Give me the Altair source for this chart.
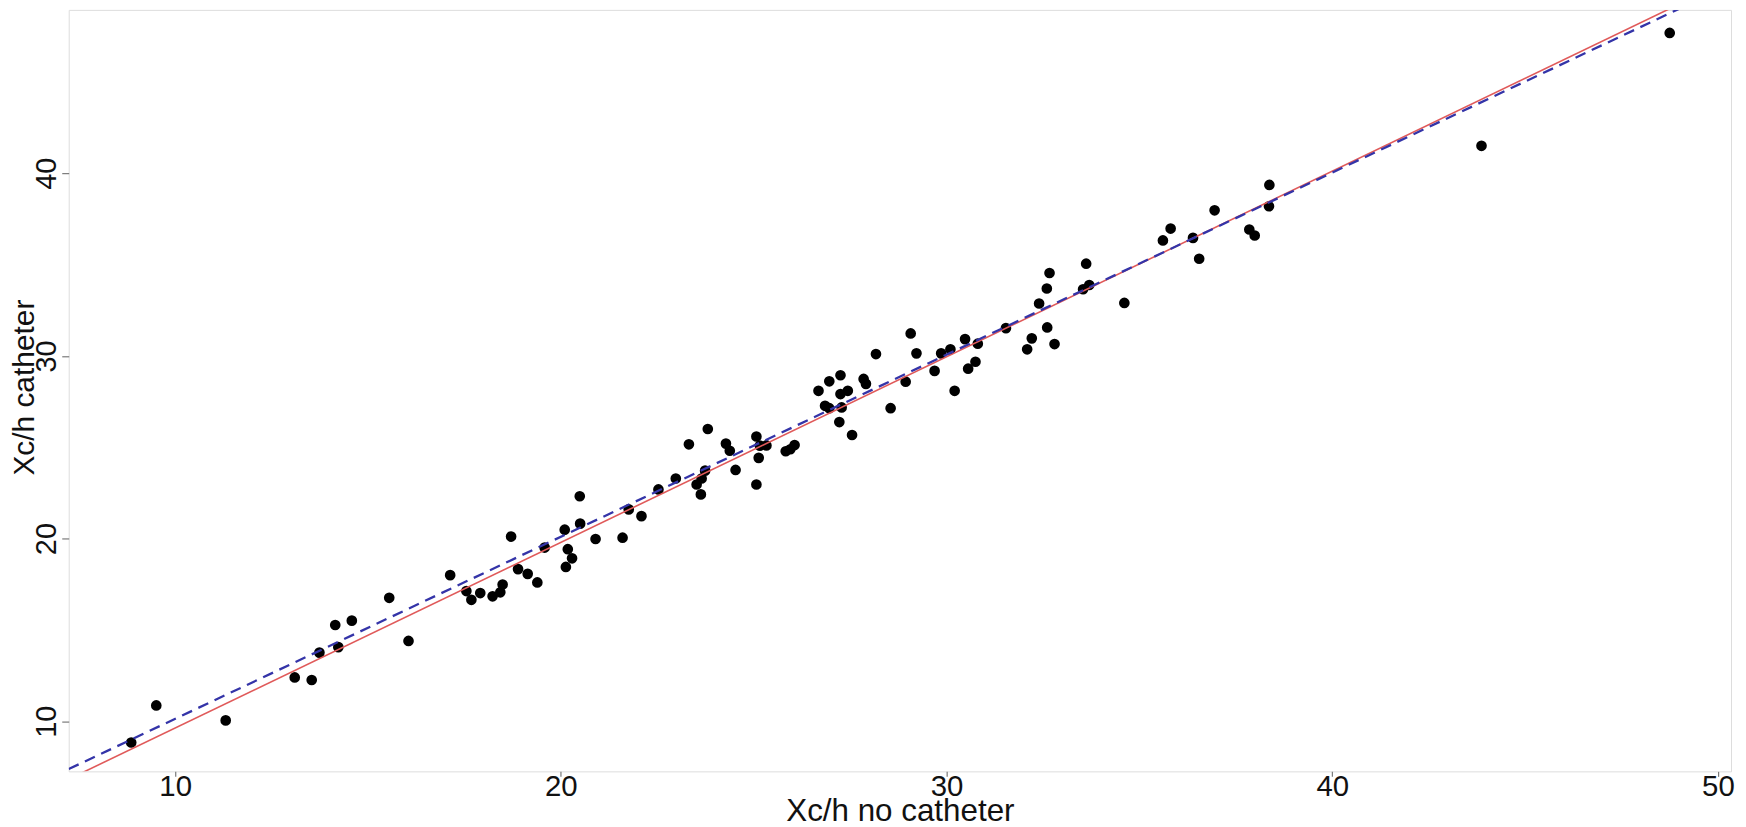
import altair as alt
import pandas as pd

# Xc/h without catheter (x) and with catheter (y)
x_no_catheter = [
    8.86, 9.51, 11.31, 13.10, 13.54, 13.74, 14.23, 14.15, 14.58, 15.55,
    16.05, 17.13, 17.55, 17.68, 17.91, 18.23, 18.43, 18.49, 18.71, 18.89,
    19.14, 19.39, 19.58, 20.10, 20.18, 20.29, 20.13, 20.49, 20.50, 20.90,
    21.60, 21.76, 22.09, 22.53, 22.98, 23.32, 23.52, 23.63, 23.65, 23.74,
    23.81, 24.28, 24.38, 24.53, 25.07, 25.13, 25.07, 25.16, 25.33, 25.83,
    25.95, 26.06, 26.68, 26.85, 26.96, 26.96, 27.25, 27.25, 27.22, 27.28,
    27.44, 27.55, 27.85, 27.91, 28.17, 28.55, 28.94, 29.07, 29.22, 29.69,
    29.86, 30.10, 30.21, 30.48, 30.56, 30.75, 30.81, 31.54, 32.09, 32.21,
    32.40, 32.60, 32.67, 32.61, 32.80, 33.54, 33.70, 33.62, 34.61, 35.61,
    35.81, 36.39, 36.55, 36.95, 37.85, 37.99, 38.37, 38.36, 43.87, 48.75,
]
y_catheter = [
    8.84, 10.87, 10.05, 12.40, 12.26, 13.76, 14.06, 15.27, 15.51, 16.76,
    14.40, 18.00, 17.13, 16.65, 17.02, 16.84, 17.06, 17.49, 20.11, 18.33,
    18.07, 17.60, 19.51, 20.49, 19.42, 18.92, 18.45, 22.32, 20.82, 19.98,
    20.05, 21.60, 21.23, 22.69, 23.29, 25.16, 22.96, 22.42, 23.29, 23.72,
    26.00, 25.20, 24.81, 23.76, 25.59, 24.42, 22.96, 25.09, 25.10, 24.78,
    24.89, 25.12, 28.09, 27.27, 28.61, 27.14, 28.94, 27.91, 26.38, 27.18,
    28.09, 25.67, 28.74, 28.47, 30.10, 27.14, 28.59, 31.23, 30.14, 29.18,
    30.14, 30.36, 28.09, 30.92, 29.30, 29.68, 30.67, 31.52, 30.36, 30.96,
    32.87, 33.69, 34.54, 31.56, 30.65, 33.65, 33.88, 35.05, 32.90, 36.32,
    36.97, 36.46, 35.32, 37.97, 36.92, 36.59, 39.36, 38.19, 41.50, 47.68,
]

# Fitted lines: (intercept, slope)
red_line = (-0.525, 1.016)
blue_line = (0.17, 0.9966)

x_domain = [7.24, 50.34]
y_domain = [7.26, 48.94]
x_ticks = [10, 20, 30, 40, 50]
y_ticks = [10, 20, 30, 40]

FONT = "Liberation Sans"
W, H = 1670, 765

points = pd.DataFrame({"x": x_no_catheter, "y": y_catheter})


def line_df(coef):
    a, b = coef
    xs = [x_domain[0], x_domain[1]]
    return pd.DataFrame({"x": xs, "y": [a + b * v for v in xs]})


xscale = alt.Scale(domain=x_domain, nice=False, zero=False)
yscale = alt.Scale(domain=y_domain, nice=False, zero=False)

xaxis = alt.Axis(
    values=x_ticks, grid=False, domain=False, tickColor="#7a7a7a", tickSize=5,
    tickWidth=1.2, labelPadding=-4, labelFont=FONT, labelFontSize=29.5,
    labelColor="#111111", labelBaseline="top", labelAlign="center",
    labelFlush=False, labelOverlap=False,
    title="Xc/h no catheter", titleFont=FONT, titleFontSize=31.5,
    titleFontWeight="normal", titleColor="#111111", titleX=W / 2, titleY=49,
    titleBaseline="alphabetic", titleAlign="center",
)
yaxis = alt.Axis(
    values=y_ticks, grid=False, domain=False, tickColor="#7a7a7a", tickSize=7,
    tickWidth=1.2, labelPadding=6, labelFont=FONT, labelFontSize=29,
    labelColor="#111111", labelAngle=270, labelAlign="center",
    labelBaseline="alphabetic", labelFlush=False, labelOverlap=False,
    title="Xc/h catheter", titleFont=FONT, titleFontSize=30,
    titleFontWeight="normal", titleColor="#111111", titleAngle=270,
    titleX=-35, titleY=379, titleAlign="center", titleBaseline="alphabetic",
)

pts = alt.Chart(points).mark_circle(size=115, color="black", opacity=1).encode(
    x=alt.X("x:Q", scale=xscale, axis=xaxis),
    y=alt.Y("y:Q", scale=yscale, axis=yaxis),
)

red = alt.Chart(line_df(red_line)).mark_line(
    color="#e05a5a", strokeWidth=1.6, clip=True
).encode(x=alt.X("x:Q", scale=xscale), y=alt.Y("y:Q", scale=yscale))

blue = alt.Chart(line_df(blue_line)).mark_line(
    color="#3434a8", strokeWidth=2.3, strokeDash=[11, 7], clip=True
).encode(x=alt.X("x:Q", scale=xscale), y=alt.Y("y:Q", scale=yscale))

chart = (
    alt.layer(pts, red, blue)
    .properties(
        width=W, height=H,
        autosize=alt.AutoSizeParams(type="none"),
        padding={"left": 61, "top": 0, "right": 7, "bottom": 54},
    )
    .configure_view(stroke="#7f7f7f", strokeWidth=1.6)
    .configure(background="white")
)

chart.save("out.html", embed_options={"renderer": "svg", "actions": False})
